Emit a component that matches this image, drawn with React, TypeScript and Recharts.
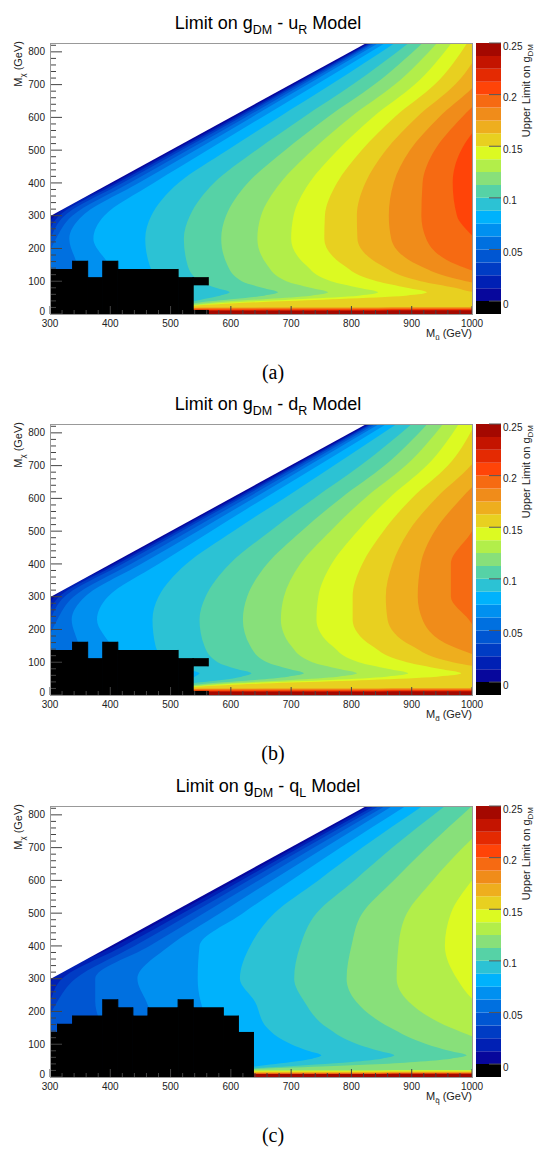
import React from "react";
import { ComposedChart, Area, XAxis, YAxis, BarChart, Bar } from "recharts";

const SANS = '"Liberation Sans", Arial, Helvetica, sans-serif';
const SERIF = '"Liberation Serif", "DejaVu Serif", serif';

// plot frame inside each panel (px)
const PLOT = { left: 50, right: 472, top: 43, bottom: 314 };

const MX_ROWS = [827, 700, 600, 500, 400, 300, 230, 150, 100, 80, 66, 56, 46, 38, 32, 28, 25, 22, 20, 18, 16, 14, 12, 10, 0];

// contour levels of the upper limit on g_DM, and the palette (band 0 = excluded)
const LEVELS = [0, 0.0125, 0.025, 0.0375, 0.05, 0.0625, 0.075, 0.0875, 0.1, 0.1125, 0.125, 0.1375, 0.15, 0.1625, 0.175, 0.1875, 0.2, 0.2125, 0.225, 0.2375, 0.25];
const BAND_COLORS = [
  "#000000", "#07079c", "#0020b4", "#003cc4", "#0056d2", "#0070e0", "#0090f0",
  "#00b2fc", "#2cc2d4", "#56d2a6", "#88e07a", "#b2ee4a", "#dcfa22", "#e8d020",
  "#eeae1e", "#f08c1a", "#f66a12", "#ff4408", "#e42a02", "#c41400", "#a40800",
];

const MX_MAJOR = [0, 100, 200, 300, 400, 500, 600, 700, 800];
const MQ_MAJOR = [300, 400, 500, 600, 700, 800, 900, 1000];
const CB_TICKS = [0, 0.05, 0.1, 0.15, 0.2, 0.25];

// upper-left edge of the allowed region (M_chi < M_q)
const DIAGONAL = [
  { mx: 298, mq: 300 },
  { mx: 827, mq: 825 },
];

// M_q (GeV) of the edge of level k at each MX_ROWS entry, u_R model
const UR_EDGES = [
  [829, 704, 605, 505, 406, 308, 288, 280, 280, 280, 280, 280, 280, 280, 280, 280, 280, 280, 280, 280, 280, 280, 280, 280, 280],
  [832, 708, 610, 511, 412, 315, 293, 270, 270, 270, 270, 270, 270, 270, 270, 270, 270, 270, 270, 270, 270, 270, 270, 270, 270],
  [835, 713, 616, 518, 420, 324, 300, 280, 270, 270, 270, 270, 270, 270, 270, 270, 270, 270, 270, 270, 270, 270, 270, 270, 270],
  [839, 719, 624, 528, 432, 337, 310, 292, 285, 280, 280, 280, 280, 280, 280, 280, 280, 280, 280, 280, 280, 280, 280, 280, 280],
  [845, 727, 634, 541, 447, 354, 332, 345, 350, 350, 350, 350, 350, 350, 350, 350, 350, 350, 350, 350, 350, 350, 350, 350, 350],
  [856, 742, 651, 561, 472, 390, 372, 398, 412, 420, 420, 420, 420, 420, 420, 420, 420, 420, 420, 420, 420, 420, 420, 420, 420],
  [872, 766, 679, 594, 513, 468, 458, 465, 485, 508, 537, 530, 520, 510, 500, 500, 500, 500, 500, 500, 500, 500, 500, 500, 500],
  [895, 802, 720, 642, 572, 532, 522, 528, 548, 575, 598, 582, 555, 537, 520, 520, 520, 520, 520, 520, 520, 520, 520, 520, 520],
  [918, 838, 760, 690, 628, 592, 584, 594, 618, 652, 678, 655, 605, 560, 537, 525, 520, 520, 520, 520, 520, 520, 520, 520, 520],
  [942, 872, 798, 735, 682, 650, 644, 660, 692, 732, 761, 733, 660, 590, 555, 537, 525, 520, 520, 520, 520, 520, 520, 520, 520],
  [966, 905, 835, 777, 730, 704, 700, 724, 766, 812, 844, 812, 720, 630, 575, 550, 537, 525, 520, 520, 520, 520, 520, 520, 520],
  [992, 938, 871, 817, 776, 756, 755, 786, 842, 892, 925, 890, 780, 670, 600, 560, 540, 528, 520, 520, 520, 520, 520, 520, 520],
  [1020, 972, 908, 857, 823, 809, 810, 848, 915, 972, 1010, 1100, 1100, 1100, 1100, 1100, 1100, 1100, 530, 530, 530, 530, 530, 530, 530],
  [1050, 1006, 945, 897, 870, 862, 866, 910, 990, 1050, 1100, 1100, 1100, 1100, 1100, 1100, 1100, 1100, 1100, 530, 530, 530, 530, 530, 530],
  [1100, 1040, 983, 938, 918, 916, 924, 975, 1060, 1100, 1100, 1100, 1100, 1100, 1100, 1100, 1100, 1100, 1100, 1100, 530, 530, 530, 530, 530],
  [1100, 1100, 1025, 982, 968, 975, 1005, 1045, 1100, 1100, 1100, 1100, 1100, 1100, 1100, 1100, 1100, 1100, 1100, 1100, 1100, 530, 530, 530, 530],
  [1100, 1100, 1100, 1035, 1025, 1040, 1060, 1100, 1100, 1100, 1100, 1100, 1100, 1100, 1100, 1100, 1100, 1100, 1100, 1100, 1100, 1100, 530, 530, 530],
  [1100, 1100, 1100, 1100, 1100, 1100, 1100, 1100, 1100, 1100, 1100, 1100, 1100, 1100, 1100, 1100, 1100, 1100, 1100, 1100, 1100, 1100, 1100, 530, 530],
  [1100, 1100, 1100, 1100, 1100, 1100, 1100, 1100, 1100, 1100, 1100, 1100, 1100, 1100, 1100, 1100, 1100, 1100, 1100, 1100, 1100, 1100, 1100, 530, 530],
  [1100, 1100, 1100, 1100, 1100, 1100, 1100, 1100, 1100, 1100, 1100, 1100, 1100, 1100, 1100, 1100, 1100, 1100, 1100, 1100, 1100, 1100, 1100, 1100, 1100],
];

// d_R model
const DR_EDGES = [
  [829, 704, 605, 505, 406, 308, 288, 280, 280, 280, 280, 280, 280, 280, 280, 280, 280, 280, 280, 280, 280, 280, 280, 280, 280],
  [832, 708, 610, 511, 412, 315, 293, 270, 270, 270, 270, 270, 270, 270, 270, 270, 270, 270, 270, 270, 270, 270, 270, 270, 270],
  [835, 713, 616, 518, 420, 324, 300, 280, 270, 270, 270, 270, 270, 270, 270, 270, 270, 270, 270, 270, 270, 270, 270, 270, 270],
  [840, 720, 625, 530, 434, 339, 312, 294, 287, 280, 280, 280, 280, 280, 280, 280, 280, 280, 280, 280, 280, 280, 280, 280, 280],
  [846, 729, 637, 545, 451, 358, 336, 348, 352, 350, 350, 350, 350, 350, 350, 350, 350, 350, 350, 350, 350, 350, 350, 350, 350],
  [858, 745, 655, 567, 480, 396, 378, 402, 418, 425, 425, 425, 425, 425, 425, 425, 425, 425, 425, 425, 425, 425, 425, 425, 425],
  [875, 771, 688, 604, 526, 480, 470, 475, 498, 522, 548, 540, 530, 515, 500, 500, 500, 500, 500, 500, 500, 500, 500, 500, 500],
  [900, 815, 738, 665, 598, 558, 548, 556, 578, 608, 634, 618, 585, 545, 525, 520, 520, 520, 520, 520, 520, 520, 520, 520, 520],
  [926, 855, 782, 717, 660, 627, 620, 632, 660, 695, 721, 695, 640, 580, 545, 530, 520, 520, 520, 520, 520, 520, 520, 520, 520],
  [952, 890, 822, 765, 715, 688, 683, 700, 735, 778, 809, 778, 700, 615, 565, 540, 525, 520, 520, 520, 520, 520, 520, 520, 520],
  [978, 925, 862, 810, 767, 745, 742, 768, 812, 860, 894, 858, 765, 650, 585, 555, 538, 525, 520, 520, 520, 520, 520, 520, 520],
  [1005, 960, 900, 853, 818, 802, 802, 834, 892, 945, 982, 942, 830, 700, 615, 570, 545, 530, 520, 520, 520, 520, 520, 520, 520],
  [1040, 998, 940, 895, 868, 857, 860, 900, 968, 1030, 1080, 1100, 1100, 1100, 1100, 1100, 1100, 1100, 530, 530, 530, 530, 530, 530, 530],
  [1080, 1035, 982, 938, 915, 910, 918, 965, 1050, 1100, 1100, 1100, 1100, 1100, 1100, 1100, 1100, 1100, 1100, 530, 530, 530, 530, 530, 530],
  [1100, 1075, 1025, 1000, 965, 965, 995, 1030, 1100, 1100, 1100, 1100, 1100, 1100, 1100, 1100, 1100, 1100, 1100, 1100, 530, 530, 530, 530, 530],
  [1100, 1100, 1100, 1100, 1100, 1100, 1100, 1100, 1100, 1100, 1100, 1100, 1100, 1100, 1100, 1100, 1100, 1100, 1100, 1100, 1100, 530, 530, 530, 530],
  [1100, 1100, 1100, 1100, 1100, 1100, 1100, 1100, 1100, 1100, 1100, 1100, 1100, 1100, 1100, 1100, 1100, 1100, 1100, 1100, 1100, 1100, 530, 530, 530],
  [1100, 1100, 1100, 1100, 1100, 1100, 1100, 1100, 1100, 1100, 1100, 1100, 1100, 1100, 1100, 1100, 1100, 1100, 1100, 1100, 1100, 1100, 1100, 530, 530],
  [1100, 1100, 1100, 1100, 1100, 1100, 1100, 1100, 1100, 1100, 1100, 1100, 1100, 1100, 1100, 1100, 1100, 1100, 1100, 1100, 1100, 1100, 1100, 530, 530],
  [1100, 1100, 1100, 1100, 1100, 1100, 1100, 1100, 1100, 1100, 1100, 1100, 1100, 1100, 1100, 1100, 1100, 1100, 1100, 1100, 1100, 1100, 1100, 1100, 1100],
];

// q_L model
const QL_EDGES = [
  [830, 706, 607, 508, 408, 305, 288, 280, 280, 280, 280, 280, 280, 280, 280, 280, 280, 280, 280, 280, 280, 280, 280, 280, 280],
  [838, 714, 617, 520, 422, 320, 300, 285, 280, 280, 280, 280, 280, 280, 280, 280, 280, 280, 280, 280, 280, 280, 280, 280, 280],
  [846, 724, 629, 535, 440, 342, 312, 292, 285, 280, 280, 280, 280, 280, 280, 280, 280, 280, 280, 280, 280, 280, 280, 280, 280],
  [856, 738, 646, 555, 465, 375, 375, 385, 390, 390, 390, 390, 390, 390, 390, 390, 390, 390, 390, 390, 390, 390, 390, 390, 390],
  [868, 756, 668, 582, 498, 445, 460, 480, 500, 500, 500, 500, 500, 500, 500, 500, 500, 500, 500, 500, 500, 500, 500, 500, 500],
  [890, 782, 700, 620, 548, 545, 550, 570, 600, 618, 630, 625, 620, 620, 620, 620, 620, 620, 620, 620, 620, 620, 620, 620, 620],
  [918, 818, 745, 672, 632, 615, 640, 660, 700, 728, 750, 735, 700, 665, 640, 625, 620, 620, 620, 620, 620, 620, 620, 620, 620],
  [955, 868, 805, 742, 715, 705, 722, 760, 810, 845, 871, 850, 800, 740, 690, 650, 632, 620, 620, 620, 620, 620, 620, 620, 620],
  [1000, 925, 870, 818, 800, 792, 808, 865, 925, 962, 991, 965, 905, 830, 750, 690, 650, 625, 620, 620, 620, 620, 620, 620, 620],
  [1060, 985, 935, 892, 878, 875, 895, 965, 1040, 1080, 1110, 1100, 1100, 1100, 1100, 1100, 1100, 1100, 530, 530, 530, 530, 530, 530, 530],
  [1100, 1050, 1000, 965, 955, 975, 1005, 1070, 1100, 1100, 1100, 1100, 1100, 1100, 1100, 1100, 1100, 1100, 1100, 530, 530, 530, 530, 530, 530],
  [1100, 1100, 1070, 1040, 1035, 1045, 1070, 1100, 1100, 1100, 1100, 1100, 1100, 1100, 1100, 1100, 1100, 1100, 1100, 1100, 530, 530, 530, 530, 530],
  [1100, 1100, 1100, 1100, 1100, 1100, 1100, 1100, 1100, 1100, 1100, 1100, 1100, 1100, 1100, 1100, 1100, 1100, 1100, 1100, 1100, 530, 530, 530, 530],
  [1100, 1100, 1100, 1100, 1100, 1100, 1100, 1100, 1100, 1100, 1100, 1100, 1100, 1100, 1100, 1100, 1100, 1100, 1100, 1100, 1100, 1100, 530, 530, 530],
  [1100, 1100, 1100, 1100, 1100, 1100, 1100, 1100, 1100, 1100, 1100, 1100, 1100, 1100, 1100, 1100, 1100, 1100, 1100, 1100, 1100, 1100, 1100, 530, 530],
  [1100, 1100, 1100, 1100, 1100, 1100, 1100, 1100, 1100, 1100, 1100, 1100, 1100, 1100, 1100, 1100, 1100, 1100, 1100, 1100, 1100, 1100, 1100, 530, 530],
  [1100, 1100, 1100, 1100, 1100, 1100, 1100, 1100, 1100, 1100, 1100, 1100, 1100, 1100, 1100, 1100, 1100, 1100, 1100, 1100, 1100, 1100, 1100, 530, 530],
  [1100, 1100, 1100, 1100, 1100, 1100, 1100, 1100, 1100, 1100, 1100, 1100, 1100, 1100, 1100, 1100, 1100, 1100, 1100, 1100, 1100, 1100, 1100, 530, 530],
  [1100, 1100, 1100, 1100, 1100, 1100, 1100, 1100, 1100, 1100, 1100, 1100, 1100, 1100, 1100, 1100, 1100, 1100, 1100, 1100, 1100, 1100, 1100, 530, 530],
  [1100, 1100, 1100, 1100, 1100, 1100, 1100, 1100, 1100, 1100, 1100, 1100, 1100, 1100, 1100, 1100, 1100, 1100, 1100, 1100, 1100, 1100, 1100, 1100, 1100],
];

// excluded bins [M_q from, M_q to, M_chi from, M_chi to]
const UR_EXCLUDED = [
  [300, 337.5, 0, 137.5], [337.5, 362.5, 0, 162.5], [362.5, 387.5, 0, 112.5], [387.5, 412.5, 0, 162.5],
  [412.5, 512.5, 0, 137.5], [512.5, 537.5, 0, 112.5], [537.5, 562.5, 87.5, 112.5], [537.5, 562.5, 0, 12.5],
];
const DR_EXCLUDED = [
  [300, 337.5, 0, 137.5], [337.5, 362.5, 0, 162.5], [362.5, 387.5, 0, 112.5], [387.5, 412.5, 0, 162.5],
  [412.5, 512.5, 0, 137.5], [512.5, 537.5, 0, 112.5], [537.5, 562.5, 87.5, 112.5], [537.5, 562.5, 0, 12.5],
];
const QL_EXCLUDED = [
  [300, 312.5, 0, 137.5], [312.5, 337.5, 0, 162.5], [337.5, 387.5, 0, 187.5], [387.5, 412.5, 0, 237.5],
  [412.5, 437.5, 0, 212.5], [437.5, 462.5, 0, 187.5], [462.5, 512.5, 0, 212.5], [512.5, 537.5, 0, 237.5],
  [537.5, 587.5, 0, 212.5], [587.5, 612.5, 0, 187.5], [612.5, 637.5, 0, 137.5],
];

// ROOT-style minor ticks: five per major step
function withMinor(major: number[], last: number) {
  const step = (major[1] - major[0]) / 5;
  const out: number[] = [];
  for (let v = major[0]; v <= last + 1e-6; v += step) out.push(Math.round(v * 1000) / 1000);
  return out;
}
const MX_TICKS = withMinor(MX_MAJOR, 827);
const MQ_TICKS = withMinor(MQ_MAJOR, 1000);

const MxTick = (props: any) => {
  const { y, payload } = props;
  const v = payload.value;
  const major = MX_MAJOR.includes(v);
  return (
    <g>
      <line x1={PLOT.left} x2={PLOT.left + (major ? 12 : 6)} y1={y} y2={y} stroke="#444" />
      {major && (
        // the "0" sits a little higher so it clears the first M_q label
        <text x={PLOT.left - 5} y={y} dy={v === 0 ? 1.4 : 3.6} textAnchor="end" fontSize={10} fontFamily={SANS} fill="#222">
          {v}
        </text>
      )}
    </g>
  );
};

const MqTick = (props: any) => {
  const { x, payload } = props;
  const v = payload.value;
  const major = MQ_MAJOR.includes(v);
  return (
    <g>
      <line x1={x} x2={x} y1={PLOT.bottom} y2={PLOT.bottom - (major ? 8 : 4)} stroke="#444" />
      {major && (
        <text x={x} y={327} textAnchor="middle" fontSize={10} fontFamily={SANS} fill="#222">
          {v}
        </text>
      )}
    </g>
  );
};

const CbTick = (props: any) => {
  const { y, payload } = props;
  return (
    <g>
      <line x1={489} x2={501} y1={y} y2={y} stroke="#555" />
      <text x={503} y={y} dy={6.5} fontSize={10} fontFamily={SANS} fill="#222">
        {String(payload.value)}
      </text>
    </g>
  );
};

// one stacked bar per band for the palette
const CB_ROW: Record<string, number | string> = { name: "g" };
BAND_COLORS.forEach((_, j) => {
  CB_ROW[`c${j}`] = j === 0 ? -(LEVELS[1] - LEVELS[0]) : LEVELS[j] - LEVELS[j - 1];
});
const CB_MIN = LEVELS[0] - (LEVELS[1] - LEVELS[0]);

type PanelProps = {
  top: number;
  quark: string;
  quarkSub: string;
  massSub: string;
  edges: number[][];
  excluded: number[][];
  caption: string;
};

function Panel({ top, quark, quarkSub, massSub, edges, excluded, caption }: PanelProps) {
  const rows = MX_ROWS.map((mx, i) => {
    const r: Record<string, number> = { mx };
    edges.forEach((e, k) => {
      r[`e${k + 1}`] = e[i];
    });
    return r;
  });
  // paint from the highest level down so each band ends up on top of the next
  const order = edges.map((_, k) => edges.length - k);

  return (
    <div style={{ position: "absolute", left: 0, top, width: 541, height: 381 }}>
      <div style={{ position: "absolute", left: 0, top: 0 }}>
        <ComposedChart
          width={541}
          height={350}
          layout="vertical"
          data={rows}
          margin={{ top: PLOT.top, right: 541 - PLOT.right, bottom: 0, left: 0 }}
        >
          {order.map((j) => (
            <Area
              key={`e${j}`}
              dataKey={`e${j}`}
              type="monotone"
              fill={BAND_COLORS[j]}
              fillOpacity={1}
              stroke="none"
              isAnimationActive={false}
            />
          ))}
          {excluded.map(([q0, q1, x0, x1], i) => (
            <Area
              key={`x${i}`}
              data={[
                { mx: x0, r: [q0, q1] },
                { mx: x1, r: [q0, q1] },
              ]}
              dataKey="r"
              type="linear"
              fill="#000"
              fillOpacity={1}
              stroke="#000"
              strokeWidth={1}
              isAnimationActive={false}
            />
          ))}
          <Area data={DIAGONAL} dataKey="mq" type="linear" fill="#fff" fillOpacity={1} stroke="none" isAnimationActive={false} />
          <XAxis
            type="number"
            domain={[300, 1000]}
            allowDataOverflow
            ticks={MQ_TICKS}
            interval={0}
            tick={<MqTick />}
            tickLine={false}
            axisLine={false}
            height={36}
          />
          <YAxis
            type="number"
            dataKey="mx"
            domain={[0, 827]}
            reversed
            allowDataOverflow
            ticks={MX_TICKS}
            interval={0}
            tick={<MxTick />}
            tickLine={false}
            axisLine={false}
            width={PLOT.left}
          />
        </ComposedChart>
      </div>

      <div style={{ position: "absolute", left: 0, top: 0 }}>
        <BarChart
          width={541}
          height={350}
          data={[CB_ROW]}
          stackOffset="sign"
          barCategoryGap={0}
          margin={{ top: PLOT.top, right: 0, bottom: 350 - PLOT.bottom, left: 476 }}
        >
          <XAxis dataKey="name" hide />
          <YAxis
            orientation="right"
            type="number"
            width={40}
            domain={[CB_MIN, LEVELS[LEVELS.length - 1]]}
            allowDataOverflow
            ticks={CB_TICKS}
            interval={0}
            tick={<CbTick />}
            tickLine={false}
            axisLine={false}
          />
          {BAND_COLORS.map((c, j) => (
            <Bar key={j} dataKey={`c${j}`} stackId="z" fill={c} isAnimationActive={false} />
          ))}
        </BarChart>
      </div>

      <div
        style={{
          position: "absolute",
          left: PLOT.left,
          top: PLOT.top,
          width: PLOT.right - PLOT.left + 1,
          height: PLOT.bottom - PLOT.top + 1,
          boxSizing: "border-box",
          border: "1px solid #999",
          pointerEvents: "none",
        }}
      />

      <svg
        width={541}
        height={395}
        style={{ position: "absolute", left: 0, top: 0, pointerEvents: "none", overflow: "visible" }}
      >
        <text x={268} y={29} textAnchor="middle" fontSize={18} fontFamily={SANS} fill="#000">
          Limit on g
          <tspan dy={5} fontSize={12.5}>DM</tspan>
          <tspan dy={-5}>{` - ${quark}`}</tspan>
          <tspan dy={5} fontSize={12.5}>{quarkSub}</tspan>
          <tspan dy={-5}> Model</tspan>
        </text>
        <text transform="translate(21.5, 41) rotate(-90)" textAnchor="end" fontSize={11} fontFamily={SANS} fill="#222">
          M<tspan dy={3} fontSize={8}>χ</tspan>
          <tspan dy={-3}> (GeV)</tspan>
        </text>
        <text x={PLOT.right} y={337} textAnchor="end" fontSize={11} fontFamily={SANS} fill="#222">
          M<tspan dy={3} fontSize={8}>{massSub}</tspan>
          <tspan dy={-3}> (GeV)</tspan>
        </text>
        <text transform="translate(529.5, 44) rotate(-90)" textAnchor="end" fontSize={11} fontFamily={SANS} fill="#222">
          Upper Limit on g<tspan dy={3} fontSize={8}>DM</tspan>
        </text>
        <text x={273} y={379} textAnchor="middle" fontSize={20} fontFamily={SERIF} fill="#000">
          {caption}
        </text>
      </svg>
    </div>
  );
}

export default function App() {
  return (
    <div style={{ position: "absolute", left: 0, top: 0, width: 541, height: 1153, background: "#fff", overflow: "hidden" }}>
      <Panel top={0} quark="u" quarkSub="R" massSub="ũ" edges={UR_EDGES} excluded={UR_EXCLUDED} caption="(a)" />
      <Panel top={381} quark="d" quarkSub="R" massSub={"d\u0303"} edges={DR_EDGES} excluded={DR_EXCLUDED} caption="(b)" />
      <Panel top={763} quark="q" quarkSub="L" massSub={"q\u0303"} edges={QL_EDGES} excluded={QL_EXCLUDED} caption="(c)" />
    </div>
  );
}
